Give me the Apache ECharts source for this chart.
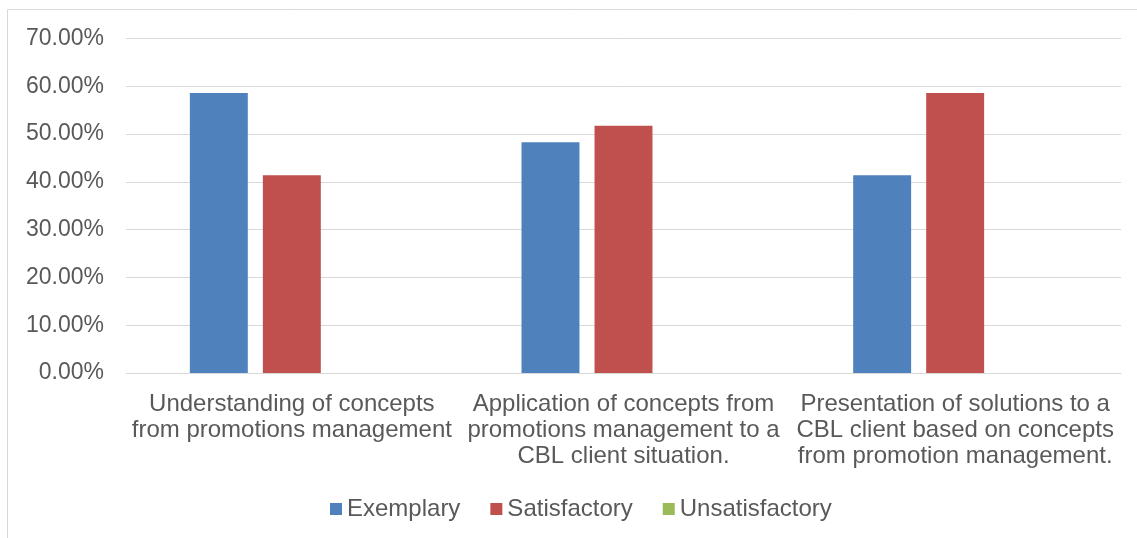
<!DOCTYPE html>
<html>
<head>
<meta charset="utf-8">
<script src="https://cdn.jsdelivr.net/npm/echarts@6/dist/echarts.min.js"></script>
<style>
  html, body { margin: 0; padding: 0; background: #fff; }
  #chart { width: 1137px; height: 538px; }
</style>
</head>
<body>
<div id="chart"></div>
<script>
// Assessment criteria (x-axis categories)
const categories = [
  'Understanding of concepts\nfrom promotions management',
  'Application of concepts from\npromotions management to a\nCBL client situation.',
  'Presentation of solutions to a\nCBL client based on concepts\nfrom promotion management.'
];
// Share of students per rating (percent)
const exemplary = [58.62, 48.28, 41.38];
const satisfactory = [41.38, 51.72, 58.62];
const unsatisfactory = [0, 0, 0];

const textColor = '#595959';
const fontFamily = 'Liberation Sans, Arial, sans-serif';

const chart = echarts.init(document.getElementById('chart'));
chart.setOption({
  animation: false,
  textStyle: { fontFamily: fontFamily },
  graphic: [{
    type: 'rect',
    shape: { x: 7.5, y: 9.5, width: 1140, height: 540 },
    style: { fill: 'none', stroke: '#d9d9d9', lineWidth: 1 },
    silent: true
  }],
  grid: { left: 126, right: 16, top: 38.5, bottom: 165, containLabel: false },
  legend: {
    left: 325,
    top: 492,
    itemWidth: 12,
    itemHeight: 12,
    itemGap: 30,
    icon: 'rect',
    textStyle: { color: textColor, fontSize: 24, fontFamily: fontFamily },
    data: ['Exemplary', 'Satisfactory', 'Unsatisfactory']
  },
  xAxis: {
    type: 'category',
    data: categories,
    axisLine: { lineStyle: { color: '#d9d9d9', width: 1 } },
    axisTick: { show: false },
    axisLabel: {
      interval: 0,
      color: textColor,
      fontSize: 24,
      lineHeight: 26,
      margin: 18,
      fontFamily: fontFamily
    }
  },
  yAxis: {
    type: 'value',
    min: 0,
    max: 70,
    interval: 10,
    axisLine: { show: false },
    axisTick: { show: false },
    splitLine: { lineStyle: { color: '#d9d9d9', width: 1 } },
    axisLabel: {
      color: textColor,
      fontSize: 23,
      margin: 22,
      fontFamily: fontFamily,
      formatter: v => v.toFixed(2) + '%'
    }
  },
  series: [
    {
      name: 'Exemplary', type: 'bar', data: exemplary,
      barGap: '26%', barCategoryGap: '38.5%',
      itemStyle: { color: '#4f81bd' }
    },
    {
      name: 'Satisfactory', type: 'bar', data: satisfactory,
      itemStyle: { color: '#c0504d' }
    },
    {
      name: 'Unsatisfactory', type: 'bar', data: unsatisfactory,
      itemStyle: { color: '#9bbb59' }
    }
  ]
});
</script>
</body>
</html>
